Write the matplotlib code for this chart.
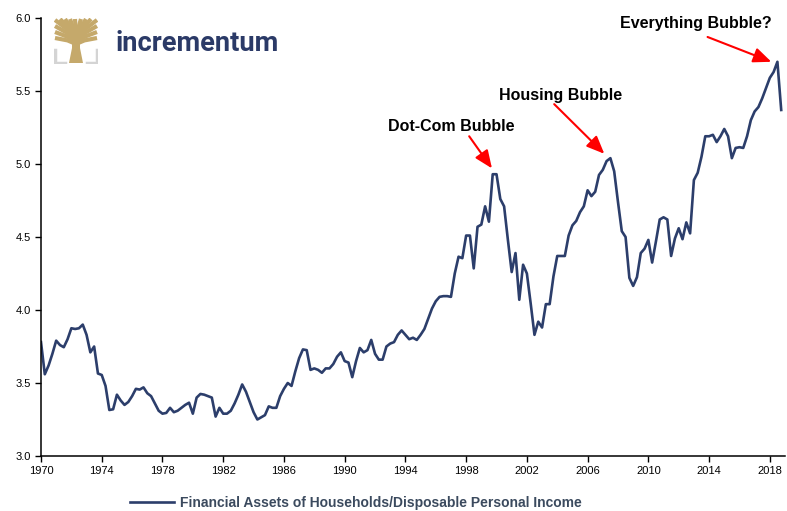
import numpy as np
import matplotlib
matplotlib.use("Agg")
import matplotlib.pyplot as plt
from matplotlib.patches import Polygon

plt.rcParams['font.family'] = ['Liberation Sans', 'DejaVu Sans']

# quarterly values, 1970Q1 .. 2018Q4
vals_1970s = [3.78, 3.56, 3.62, 3.70, 3.79, 3.76, 3.745, 3.80, 3.875, 3.87,
              3.875, 3.90, 3.83, 3.71, 3.75, 3.565, 3.555, 3.48, 3.315, 3.32,
              3.42, 3.38, 3.35, 3.37, 3.41, 3.46, 3.455, 3.47, 3.43, 3.41,
              3.36, 3.31, 3.29, 3.295, 3.33, 3.30, 3.31, 3.33, 3.35, 3.365]
vals_1980s = [3.29, 3.40, 3.425, 3.42, 3.41, 3.40, 3.27, 3.33, 3.29, 3.29,
              3.31, 3.36, 3.42, 3.49, 3.44, 3.37, 3.30, 3.25, 3.265, 3.28,
              3.34, 3.33, 3.33, 3.41, 3.46, 3.50, 3.48, 3.58, 3.67, 3.73,
              3.725, 3.59, 3.60, 3.59, 3.57, 3.60, 3.60, 3.63, 3.68, 3.71]
vals_1990s = [3.65, 3.64, 3.54, 3.65, 3.74, 3.71, 3.725, 3.795, 3.70, 3.66,
              3.66, 3.75, 3.77, 3.78, 3.83, 3.86, 3.83, 3.80, 3.81, 3.795,
              3.83, 3.87, 3.94, 4.01, 4.06, 4.09, 4.095, 4.095, 4.09, 4.25,
              4.365, 4.355, 4.51, 4.51, 4.285, 4.57, 4.585, 4.71, 4.605, 4.93]
vals_2000s = [4.93, 4.76, 4.71, 4.48, 4.26, 4.39, 4.07, 4.31, 4.25, 4.045,
              3.83, 3.92, 3.88, 4.04, 4.04, 4.23, 4.37, 4.37, 4.37, 4.51,
              4.58, 4.61, 4.67, 4.71, 4.82, 4.78, 4.81, 4.925, 4.96, 5.02,
              5.04, 4.95, 4.74, 4.54, 4.50, 4.22, 4.165, 4.225, 4.39, 4.42]
vals_2010s = [4.48, 4.325, 4.47, 4.62, 4.635, 4.62, 4.37, 4.49, 4.56, 4.485,
              4.60, 4.525, 4.89, 4.94, 5.05, 5.19, 5.19, 5.20, 5.15, 5.19,
              5.24, 5.19, 5.04, 5.11, 5.115, 5.11, 5.19, 5.30, 5.36, 5.39,
              5.45, 5.52, 5.59, 5.63, 5.70, 5.37]

values = vals_1970s + vals_1980s + vals_1990s + vals_2000s + vals_2010s
years = 1970 + np.arange(len(values)) / 4.0

x_ticks = list(range(1970, 2019, 4))
y_ticks = [3.0, 3.5, 4.0, 4.5, 5.0, 5.5, 6.0]

series_name = "Financial Assets of Households/Disposable Personal Income"
notes = ["Dot-Com Bubble", "Housing Bubble", "Everything Bubble?"]
note_text_xy = [(1997.05, 5.26), (2004.2, 5.47), (2013.15, 5.96)]
note_start = [(1998.2, 5.19), (2003.8, 5.41), (2013.9, 5.87)]
note_tip = [(1999.7, 4.97), (2007.1, 5.07), (2018.1, 5.70)]

navy = '#2c3e6b'

fig = plt.figure(figsize=(7.87, 5.11), dpi=100)
ax = fig.add_axes([41/787, 1-456/511, (785-41)/787, (456-18)/511])

ax.plot(years, values, color=navy, lw=1.9, label=series_name)

ax.set_xlim(1970, 2019)
ax.set_ylim(3.0, 6.0)
ax.set_xticks(x_ticks)
ax.set_yticks(y_ticks)
ax.set_yticklabels(['%.1f' % v for v in y_ticks])
ax.tick_params(labelsize=8, direction='out', length=4, width=1)
for s in ['top', 'right']:
    ax.spines[s].set_visible(False)
for s in ['left', 'bottom']:
    ax.spines[s].set_linewidth(1.1)

for t, txy, st, tip in zip(notes, note_text_xy, note_start, note_tip):
    ax.text(txy[0], txy[1], t, ha='center', va='center', fontsize=11.5,
            fontweight='bold', clip_on=False)
    ax.annotate('', xy=tip, xytext=st,
                arrowprops=dict(arrowstyle='-|>,head_length=0.9,head_width=0.38',
                                mutation_scale=12, color='red', lw=1.5,
                                shrinkA=0, shrinkB=0))

fig.legend(loc='center', bbox_to_anchor=(0.452, 0.016), frameon=False,
           handlelength=3.2, handletextpad=0.45,
           prop={'weight': 'bold', 'size': 10}, labelcolor='#3b4a5e')

# logo
lg = fig.add_axes([54/787, 1-64/511, 44/787, 46/511])
lg.set_xlim(0, 44)
lg.set_ylim(0, 46)
lg.axis('off')
gold = '#c5a96b'
grey = '#d4d4d4'
lg.add_patch(Polygon([(15, 1), (29, 1), (26, 16), (26, 24), (18, 24), (18, 16)],
                     closed=True, color=gold, lw=0))
for ex, ey in [(1, 44), (6, 45), (11, 45), (16, 45), (21, 45), (27, 45),
               (32, 45), (37, 45), (43, 44), (1, 38), (43, 38), (1, 32),
               (43, 32), (1, 26), (43, 26)]:
    mx = 22 + (ex - 22) * 0.4
    lg.plot([22, mx, ex], [20, 20 + (ey - 20) * 0.6, ey], color=gold,
            lw=3.0, solid_capstyle='butt')
lg.plot([1, 1, 11], [14, 1, 1], color=grey, lw=2.5)
lg.plot([43, 43, 33], [14, 1, 1], color=grey, lw=2.5)

fig.text(116/787, 1-43/511, 'incrementum', ha='left', va='center',
         fontsize=19.6, fontweight='bold', color='#2b3a67', family='Roboto')

fig.savefig('out.png', dpi=100)
